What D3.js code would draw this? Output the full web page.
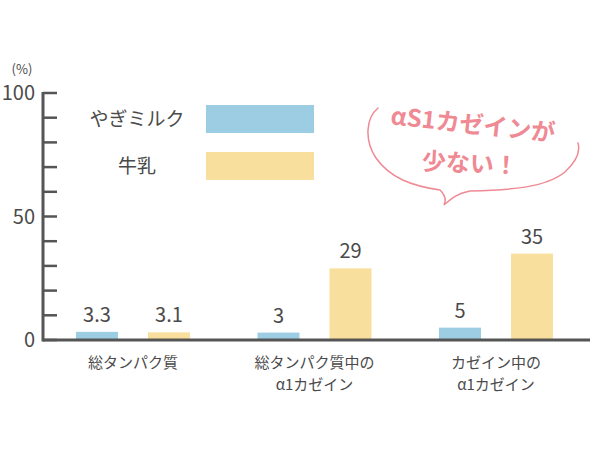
<!DOCTYPE html>
<html>
<head>
<meta charset="utf-8">
<script src="https://cdn.jsdelivr.net/npm/d3@7"></script>
<style>
  html, body { margin: 0; padding: 0; background: #fff; }
  svg { display: block; font-family: "Noto Sans CJK JP", "Noto Sans", sans-serif; }
</style>
</head>
<body>
<div id="chart"></div>
<script>
// データ
const categories = [["総タンパク質"], ["総タンパク質中の", "α1カゼイン"], ["カゼイン中の", "α1カゼイン"]];
const seriesNames = ["やぎミルク", "牛乳"];
const goatValues = [3.3, 3, 5];
const cowValues = [3.1, 29, 35];
const goatLabels = ["3.3", "3", "5"];
const cowLabels = ["3.1", "29", "35"];
const yTickLabels = [0, 50, 100];

const width = 590, height = 453;
const colorGoat = "#9ccde3";
const colorCow = "#f8df9d";
const colorText = "#4a4a4a";
const colorAxis = "#555555";
const colorPink = "#ef8993";

const svg = d3.select("#chart").append("svg")
  .attr("width", width).attr("height", height);

const y = d3.scaleLinear().domain([0, 100]).range([340, 93]);
const x = d3.scalePoint().domain(d3.range(categories.length)).range([133, 496]);
const xInner = d3.scaleBand().domain([0, 1]).range([-57, 57]).paddingInner(0.4167);

const axisX = 43;

// 目盛り
svg.append("g").selectAll("line")
  .data(d3.range(0, 101, 10))
  .join("line")
  .attr("x1", axisX).attr("x2", 57)
  .attr("y1", d => y(d)).attr("y2", d => y(d))
  .attr("stroke", colorAxis).attr("stroke-width", 2.5);

svg.append("line")
  .attr("x1", axisX).attr("x2", axisX)
  .attr("y1", y(100) - 1).attr("y2", y(0) + 1.5)
  .attr("stroke", colorAxis).attr("stroke-width", 3);

svg.append("g").selectAll("text")
  .data(yTickLabels)
  .join("text")
  .attr("x", 35).attr("y", d => y(d))
  .attr("dy", "0.36em")
  .attr("text-anchor", "end")
  .attr("fill", colorText)
  .attr("font-size", 20)
  .text(d => d);

svg.append("text")
  .attr("x", 22).attr("y", 74)
  .attr("text-anchor", "middle")
  .attr("fill", colorText)
  .attr("font-size", 13)
  .text("(%)");

// 棒
const series = [
  { name: seriesNames[0], values: goatValues, labels: goatLabels, color: colorGoat },
  { name: seriesNames[1], values: cowValues, labels: cowLabels, color: colorCow }
];

series.forEach((s, si) => {
  svg.append("g").selectAll("rect")
    .data(s.values)
    .join("rect")
    .attr("x", (d, i) => x(i) + xInner(si))
    .attr("y", d => y(d))
    .attr("width", xInner.bandwidth())
    .attr("height", d => y(0) - y(d))
    .attr("fill", s.color);

  svg.append("g").selectAll("text")
    .data(s.values)
    .join("text")
    .attr("x", (d, i) => x(i) + xInner(si) + xInner.bandwidth() / 2)
    .attr("y", d => y(d) - 10)
    .attr("text-anchor", "middle")
    .attr("fill", colorText)
    .attr("font-size", 20)
    .text((d, i) => s.labels[i]);
});

// 基準線
svg.append("line")
  .attr("x1", axisX).attr("x2", width)
  .attr("y1", y(0)).attr("y2", y(0))
  .attr("stroke", colorAxis).attr("stroke-width", 3);

// カテゴリ
const catG = svg.append("g").selectAll("text")
  .data(categories)
  .join("text")
  .attr("x", (d, i) => x(i))
  .attr("y", 368)
  .attr("text-anchor", "middle")
  .attr("fill", colorText)
  .attr("font-size", 15);
catG.selectAll("tspan")
  .data(d => d)
  .join("tspan")
  .attr("x", function () { return d3.select(this.parentNode).attr("x"); })
  .attr("dy", (d, i) => i === 0 ? 0 : 22)
  .text(d => d);

// 凡例
const legend = svg.append("g");
series.forEach((s, i) => {
  legend.append("text")
    .attr("x", 137).attr("y", 119 + i * 47)
    .attr("dy", "0.36em")
    .attr("text-anchor", "middle")
    .attr("fill", colorText)
    .attr("font-size", 19)
    .text(s.name);
  legend.append("rect")
    .attr("x", 206).attr("y", 105 + i * 47)
    .attr("width", 108).attr("height", 28)
    .attr("fill", s.color);
});

// 吹き出し
svg.append("path")
  .attr("d", "M378,108 C366,118 364,140 376,158 C390,178 412,186 440,190 C446,196 446,201 444,205 C452,198 458,193 470,191 C510,190 545,188 565,172 C578,160 580,150 578,143")
  .attr("fill", "none")
  .attr("stroke", colorPink)
  .attr("stroke-width", 1.5)
  .attr("stroke-linecap", "round");

svg.append("text")
  .attr("x", 473).attr("y", 133)
  .attr("text-anchor", "middle")
  .attr("fill", colorPink)
  .attr("font-size", 24)
  .attr("font-weight", "bold")
  .attr("transform", "rotate(6,473,125)")
  .text("αS1カゼインが");

svg.append("text")
  .attr("x", 470).attr("y", 172)
  .attr("text-anchor", "middle")
  .attr("fill", colorPink)
  .attr("font-size", 24)
  .attr("font-weight", "bold")
  .attr("transform", "rotate(3,470,163)")
  .text("少ない！");
</script>
</body>
</html>
